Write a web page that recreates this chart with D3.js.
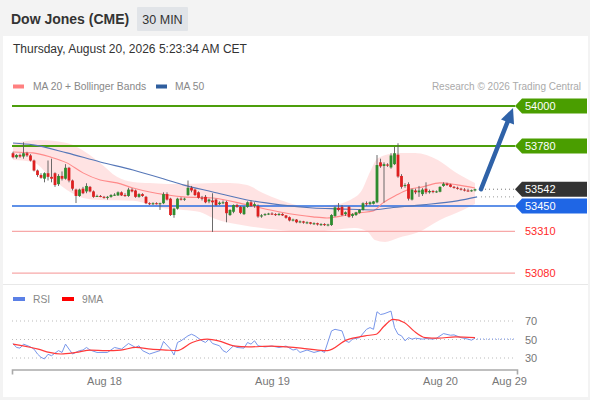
<!DOCTYPE html>
<html><head><meta charset="utf-8">
<script src="https://cdn.jsdelivr.net/npm/d3@7"></script>
<style>body{margin:0;background:#fff}svg{display:block;font-family:"Liberation Sans",Arial,sans-serif}</style>
</head><body><svg id="c" width="590" height="400"></svg>
<script>
// ---------- DATA ----------
const startTime = Date.UTC(2026,7,17,11,0); // first 30-min candle
const open = [53740,53718,53730,53722,53740,53728,53700,53645,53620,53600,
53630,53610,53630,53570,53615,53600,53660,53590,53540,53505,
53545,53530,53555,53530,53505,53505,53500,53495,53500,53510,
53508,53525,53510,53505,53540,53535,53500,53515,53500,53465,
53460,53465,53462,53465,53515,53490,53400,53435,53490,53485,
53510,53550,53540,53525,53495,53500,53475,53480,53485,53460,
53468,53472,53400,53418,53455,53445,53405,53445,53470,53450,
53450,53392,53400,53405,53408,53405,53400,53406,53398,53388,
53372,53375,53362,53365,53358,53360,53352,53355,53348,53350,
53345,53345,53395,53440,53445,53405,53445,53395,53400,53412,
53428,53465,53460,53462,53470,53690,53670,53678,53662,53680,
53732,53615,53560,53570,53485,53535,53525,53515,53545,53525,
53532,53528,53528,53560,53572,53568,53555,53550,53545,53540,
53535,53532,53535];
const high = [53748,53735,53738,53800,53748,53735,53705,53650,53630,53635,
53700,53710,53635,53625,53640,53680,53665,53595,53545,53545,
53555,53575,53560,53535,53512,53510,53505,53505,53515,53520,
53530,53530,53520,53550,53548,53540,53520,53520,53505,53470,
53470,53470,53468,53525,53525,53495,53440,53495,53498,53495,
53590,53560,53545,53530,53505,53510,53490,53520,53490,53475,
53480,53478,53432,53458,53462,53450,53450,53475,53480,53470,
53458,53405,53410,53412,53415,53410,53412,53410,53400,53392,
53380,53378,53370,53368,53365,53362,53360,53358,53355,53355,
53352,53405,53448,53466,53455,53420,53450,53410,53418,53432,
53470,53475,53475,53478,53730,53710,53690,53685,53740,53775,
53795,53625,53575,53580,53545,53545,53560,53548,53580,53540,
53538,53535,53558,53580,53578,53572,53560,53556,53550,53548,
53545,53540,53545];
const low = [53712,53710,53715,53710,53720,53695,53640,53610,53600,53580,
53590,53580,53555,53560,53590,53595,53580,53535,53466,53500,
53515,53520,53525,53495,53500,53498,53490,53485,53495,53505,
53505,53505,53500,53500,53525,53495,53495,53500,53460,53455,
53455,53458,53428,53460,53480,53395,53385,53430,53480,53478,
53505,53525,53505,53490,53480,53465,53465,53307,53450,53455,
53460,53360,53395,53410,53440,53405,53400,53440,53445,53440,
53385,53385,53395,53400,53400,53395,53396,53395,53380,53365,
53365,53355,53355,53352,53350,53348,53345,53342,53340,53340,
53338,53340,53390,53420,53395,53395,53385,53385,53395,53408,
53425,53450,53455,53458,53465,53660,53468,53665,53655,53675,
53605,53545,53550,53480,53480,53515,53500,53505,53515,53518,
53520,53522,53525,53555,53560,53552,53545,53540,53535,53530,
53528,53528,53530];
const close = [53718,53730,53722,53740,53728,53700,53645,53620,53605,53630,
53610,53600,53565,53615,53600,53660,53590,53545,53505,53540,
53520,53560,53530,53500,53505,53502,53495,53500,53510,53512,
53525,53508,53505,53540,53530,53500,53515,53505,53465,53460,
53465,53462,53465,53515,53485,53400,53435,53490,53485,53490,
53550,53535,53510,53495,53490,53470,53485,53470,53455,53468,
53470,53410,53428,53455,53445,53412,53445,53470,53450,53460,
53392,53398,53405,53408,53405,53400,53406,53398,53385,53370,
53375,53360,53365,53358,53360,53352,53355,53348,53350,53345,
53348,53400,53442,53428,53400,53415,53390,53405,53415,53428,
53465,53460,53470,53475,53675,53668,53680,53672,53728,53740,
53612,53555,53565,53490,53540,53525,53535,53540,53525,53532,
53528,53530,53555,53572,53565,53555,53550,53545,53540,53535,
53532,53536,53542];

// Bollinger / MA samples (candle index, price)
const bbUpIdx = [0,7.7,15.4,21.1,24.9,29.7,34.3,39.1,44,48.6,57.1,62,66.9,71.4,76.3,85.7,91.4,96.3,99.7,102,104.3,110,114.9,121.4,126.3,132];
const bbUpVal = [53796,53813,53796,53741,53686,53610,53582,53576,53571,53571,53576,53576,53565,53521,53483,53444,53455,53483,53538,53637,53714,53741,53741,53703,53637,53576];
const bbLoIdx = [0,5.7,10.6,15.4,20,24.9,34.3,39.1,44,48.6,53.4,57.1,66.9,76.3,85.7,91.4,97.7,101.4,103.4,106.3,110,115.4,122,128.6,132];
const bbLoVal = [53703,53692,53610,53538,53494,53483,53478,53456,53434,53428,53417,53384,53340,53318,53307,53318,53329,53307,53263,53252,53274,53302,53373,53428,53461];
const ma20Idx = [0,5.7,10.6,15.4,20,24.9,29.7,34.3,39.1,44,48.6,57.1,66.9,76.3,85.7,89.7,95.4,99.1,102.9,105.7,109.7,112.6,117.1,122,126.9,132];
const ma20Val = [53747,53742,53720,53687,53632,53593,53577,53549,53527,53511,53500,53494,53456,53417,53390,53384,53400,53412,53423,53467,53511,53538,53555,53577,53566,53549];
const ma50Idx = [0,5.7,15.4,24.9,34.3,44,48.6,57.1,66.9,76.3,85.7,93.4,102.9,107.7,117.1,126.9,132.6];
const ma50Val = [53796,53786,53742,53692,53648,53593,53566,53527,53483,53456,53439,53434,53428,53439,53456,53478,53500];

// RSI + 9MA samples (candle index, value)
const rsiIdx = [0,1,2,3,5,6,7,8,9,10,11,13,14,15,16,17,19,20,21,22,24,27,29,31,33,35,36,37,39,42,43,45,46,47,48,50,51,52,54,55,56,57,59,60,61,63,64,66,67,68,69,70,72,74,76,78,80,81,82,84,86,88,89,91,92,94,95,96,97,99,101,102,103,104,105,106,108,109,110,111,112,113,114,115,117,118,120,121,123,125,126,128,130,131,132];
const rsiVal = [45.7,41.4,40.7,45,42,39.6,34.3,30.7,29,34,32.5,38,36,45,39.6,34.3,38,38.6,41.4,38.6,36,36,41.4,39.6,45.7,41.4,43.2,38,34.3,38,47.9,39.6,33.2,46.8,48.6,54,55.7,54,48.6,46.8,50.4,45.7,43.2,38,36,43.2,41.4,40.7,46.8,45,48.6,43.2,42,42.9,41.4,42.9,38.6,39.6,36,38.6,36,38,36,59.3,61,59.3,48.6,46.8,50.4,52,61,62.9,61,80,77,77.8,80.7,62.9,55.7,54,48.6,52,50.4,51.4,50.4,51,50.4,51.4,56.4,54.6,55,52,50.4,49.3,51.4];
const ma9Idx = [0,2.9,7.2,10.4,13.7,18,22.2,26.5,30.8,35.1,39.4,43.7,46.9,51.2,55.5,58.7,63,67.3,73.8,78.1,82.3,88.8,89.9,95.2,100.6,103.8,106,108.6,111.9,114.5,117.8,121.5,126.4,132];
const ma9Val = [45,43.2,39.6,36,34.3,36,38.6,38,38.6,41.4,39.6,38.6,38,46.8,50.4,48.6,43.2,42,42.9,42,40.7,38,38,49.3,54,55.7,64.3,71.8,68.2,59.3,52,51.4,52.9,52];

// Levels
const levelValues = [54000, 53780, 53542, 53450, 53310, 53080];
const levelKinds  = ["res", "res", "last", "sup", "target", "target"];
const rsiTicks = [70, 50, 30];
const xTickTimes = [Date.UTC(2026,7,18), Date.UTC(2026,7,19), Date.UTC(2026,7,20), Date.UTC(2026,7,20,9,51)];
const xTickLabels = ["Aug 18", "Aug 19", "Aug 20", "Aug 29"];
const arrowTarget = {time: Date.UTC(2026,7,20,10,26), price: 54000};
const lastMa50 = 53500;

// ---------- DRAW ----------
const HALF = 30*60*1000;
const tOf = i => new Date(startTime + i*HALF);
const svg = d3.select("#c");

const x = d3.scaleUtc().domain([new Date(startTime - HALF*(1/3.5)), new Date(Date.UTC(2026,7,20,11,0))]).range([12, 517]);
const y = d3.scaleLinear().domain([53026, 54060.5]).range([283, 95]);
const yr = d3.scaleLinear().domain([30, 70]).range([358, 321]);

// frame
svg.append("rect").attr("width",590).attr("height",400).attr("fill","#f3f3f3");
svg.append("rect").attr("x",3).attr("y",36).attr("width",585).attr("height",361).attr("fill","#fff");
svg.append("line").attr("x1",3).attr("x2",588).attr("y1",284.5).attr("y2",284.5).attr("stroke","#e8e8e8");

// header
svg.append("text").attr("x",11).attr("y",24).attr("font-size",14).attr("font-weight","bold").attr("fill","#333").text("Dow Jones (CME)");
svg.append("rect").attr("x",137).attr("y",7).attr("width",51).attr("height",24).attr("fill","#e1e4e8").attr("rx",1);
svg.append("text").attr("x",162.5).attr("y",24).attr("text-anchor","middle").attr("font-size",12.5).attr("fill","#333").text("30 MIN");
svg.append("text").attr("x",13).attr("y",53).attr("font-size",12).attr("fill","#333").text("Thursday, August 20, 2026 5:23:34 AM CET");

// legend
svg.append("rect").attr("x",13).attr("y",84.5).attr("width",11).attr("height",4).attr("fill","#ff8080");
svg.append("text").attr("x",33).attr("y",90).attr("font-size",10.3).attr("fill","#888").text("MA 20 + Bollinger Bands");
svg.append("rect").attr("x",156).attr("y",84.5).attr("width",11).attr("height",4).attr("fill","#2f5e9e");
svg.append("text").attr("x",175).attr("y",90).attr("font-size",10.3).attr("fill","#888").text("MA 50");
svg.append("text").attr("x",581).attr("y",90).attr("text-anchor","end").attr("font-size",10).attr("fill","#aaa").text("Research \u00a9 2026 Trading Central");

// Bollinger band area
const up = bbUpIdx.map((d,i)=>({t:tOf(d), v:bbUpVal[i]}));
const lo = bbLoIdx.map((d,i)=>({t:tOf(d), v:bbLoVal[i]}));
const upPath = d3.line().x(d=>x(d.t)).y(d=>y(d.v)).curve(d3.curveMonotoneX)(up);
const loPath = d3.line().x(d=>x(d.t)).y(d=>y(d.v)).curve(d3.curveMonotoneX)(lo.slice().reverse());
svg.append("path").attr("d", upPath + "L" + loPath.slice(1) + "Z").attr("fill","#ff0000").attr("fill-opacity",0.11);

// level lines
const xRight = 515;
levelValues.forEach((v,i)=>{
  const k = levelKinds[i], yy = y(v);
  if (k==="last") return;
  const col = k==="res" ? "#4c9e0c" : k==="sup" ? "#2a6de0" : "#f7a8a8";
  const w = k==="res" ? 2 : k==="sup" ? 1.4 : 1.2;
  svg.append("line").attr("x1",12).attr("x2",xRight).attr("y1",yy).attr("y2",yy).attr("stroke",col).attr("stroke-width",w);
});

// MA lines
const ln = d3.line().x(d=>x(d.t)).y(d=>y(d.v)).curve(d3.curveMonotoneX);
svg.append("path").attr("d", ln(ma20Idx.map((d,i)=>({t:tOf(d),v:ma20Val[i]})))).attr("fill","none").attr("stroke","#ff8a8a").attr("stroke-width",1.1);
svg.append("path").attr("d", ln(ma50Idx.map((d,i)=>({t:tOf(d),v:ma50Val[i]})))).attr("fill","none").attr("stroke","#5677b8").attr("stroke-width",1.1);

// candles
const candles = close.map((c,i)=>({t:tOf(i), o:open[i], h:high[i], l:low[i], c}));
const g = svg.append("g");
candles.forEach(d=>{
  const cx = x(d.t);
  g.append("line").attr("x1",cx).attr("x2",cx).attr("y1",y(d.h)).attr("y2",y(d.l)).attr("stroke","#5a5a5a").attr("stroke-width",0.9);
  const top = y(Math.max(d.o,d.c)), bot = y(Math.min(d.o,d.c));
  g.append("rect").attr("x",cx-1.4).attr("width",2.8).attr("y",top).attr("height",Math.max(1,bot-top))
    .attr("fill", d.c>=d.o ? "#2e8b2e" : "#dd2020");
});

// dotted continuations
const last = candles[candles.length-1];
const lastX = x(last.t);
svg.append("line").attr("x1",lastX+6).attr("x2",xRight).attr("y1",y(levelValues[2])).attr("y2",y(levelValues[2])).attr("stroke","#777").attr("stroke-dasharray","1,3");
svg.append("line").attr("x1",lastX+6).attr("x2",xRight).attr("y1",y(lastMa50)).attr("y2",y(lastMa50)).attr("stroke","#999").attr("stroke-dasharray","1,3");

// arrow
const ax0 = lastX+6, ay0 = y(last.c), ax1 = x(arrowTarget.time), ay1 = y(arrowTarget.price)+2;
const dx = ax1-ax0, dy = ay1-ay0, L = Math.hypot(dx,dy), ux = dx/L, uy = dy/L;
const hl = 15, hw = 7;
const bx = ax1-ux*hl, by = ay1-uy*hl;
svg.append("line").attr("x1",ax0).attr("y1",ay0).attr("x2",bx+ux*2).attr("y2",by+uy*2).attr("stroke","#2f62a8").attr("stroke-width",4.5).attr("stroke-linecap","round");
svg.append("polygon").attr("points",[[ax1,ay1],[bx-uy*hw,by+ux*hw],[bx+uy*hw,by-ux*hw]].map(p=>p.join(",")).join(" ")).attr("fill","#2f62a8");

// labels
levelValues.forEach((v,i)=>{
  const k = levelKinds[i], yy = y(v);
  if (k==="target") {
    svg.append("text").attr("x",525).attr("y",yy+4).attr("font-size",11).attr("fill","#ff2a2a").text(v);
    return;
  }
  const col = k==="res" ? "#4a9e00" : k==="sup" ? "#1f66e5" : "#333333";
  svg.append("polygon").attr("points",[[515,yy],[522,yy-7.5],[587,yy-7.5],[587,yy+7.5],[522,yy+7.5]].map(p=>p.join(",")).join(" ")).attr("fill",col);
  svg.append("text").attr("x",525).attr("y",yy+4).attr("font-size",11).attr("fill","#fff").text(v);
});

// ---------- RSI panel ----------
svg.append("rect").attr("x",13).attr("y",297).attr("width",12).attr("height",4).attr("fill","#5b80e6");
svg.append("text").attr("x",33).attr("y",302.5).attr("font-size",10.3).attr("fill","#888").text("RSI");
svg.append("rect").attr("x",62).attr("y",297).attr("width",12).attr("height",4).attr("fill","#ff0000");
svg.append("text").attr("x",82).attr("y",302.5).attr("font-size",10.3).attr("fill","#888").text("9MA");

rsiTicks.forEach(v=>{
  svg.append("line").attr("x1",12).attr("x2",xRight).attr("y1",yr(v)).attr("y2",yr(v)).attr("stroke","#bbb").attr("stroke-dasharray","1,3");
  svg.append("text").attr("x",525).attr("y",yr(v)+4).attr("font-size",11).attr("fill","#777").text(v);
});
const rl = d3.line().x(d=>x(d.t)).y(d=>yr(d.v));
svg.append("path").attr("d", rl(rsiIdx.map((d,i)=>({t:tOf(d),v:rsiVal[i]})))).attr("fill","none").attr("stroke","#7896ea").attr("stroke-width",1);
svg.append("path").attr("d", rl.curve(d3.curveMonotoneX)(ma9Idx.map((d,i)=>({t:tOf(d),v:ma9Val[i]})))).attr("fill","none").attr("stroke","#ff3a3a").attr("stroke-width",1.2);
svg.append("line").attr("x1",lastX+2).attr("x2",xRight).attr("y1",yr(50.5)).attr("y2",yr(50.5)).attr("stroke","#7896ea").attr("stroke-dasharray","1,2");

// x axis
const axis = d3.axisBottom(x).tickValues(xTickTimes.map(t=>new Date(t))).tickFormat((d,i)=>xTickLabels[i]).tickSizeInner(0).tickSizeOuter(5).tickPadding(8);
const ag = svg.append("g").attr("transform","translate(0,369.5)").call(axis);
ag.select(".domain").attr("stroke","#aaa").attr("stroke-width",1.6);
ag.selectAll("text").attr("fill","#777").attr("font-size",11).attr("font-family","Liberation Sans, Arial, sans-serif");
</script></body></html>
